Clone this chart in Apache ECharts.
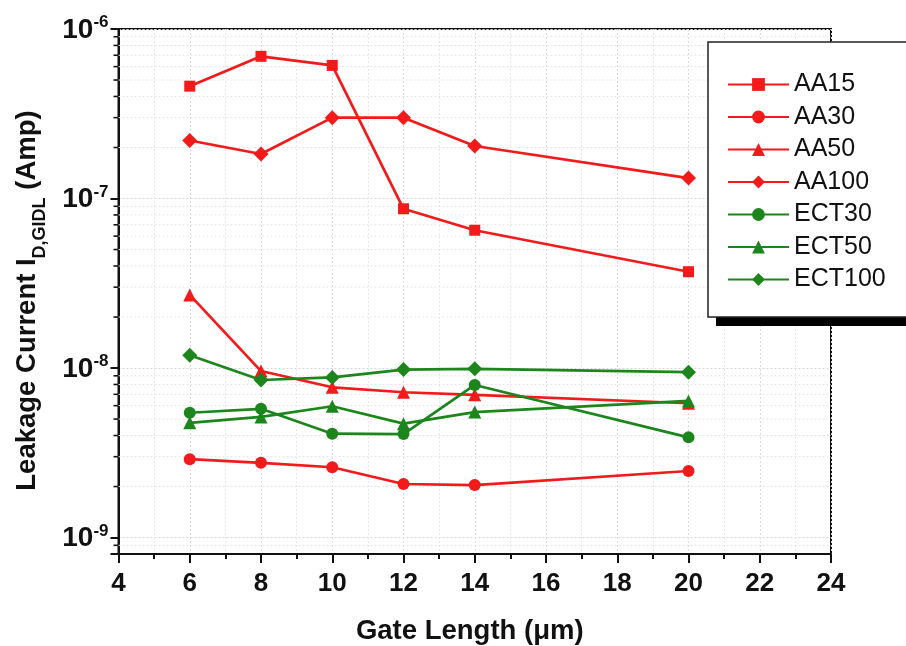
<!DOCTYPE html>
<html>
<head>
<meta charset="utf-8">
<script src="https://cdn.jsdelivr.net/npm/echarts@6/dist/echarts.min.js"></script>
<style>
html,body{margin:0;padding:0;background:#fff;}
#chart{width:906px;height:646px;}
</style>
</head>
<body>
<div id="chart"></div>
<script>
// ---- data ----
const gateLength = [6, 8, 10, 12, 14, 20];
const seriesNames = ['AA15', 'AA30', 'AA50', 'AA100', 'ECT30', 'ECT50', 'ECT100'];
const AA15 = [4.6e-7, 6.9e-7, 6.1e-7, 8.7e-8, 6.5e-8, 3.7e-8];
const AA30 = [2.9e-9, 2.76e-9, 2.6e-9, 2.07e-9, 2.04e-9, 2.47e-9];
const AA50 = [2.7e-8, 9.6e-9, 7.7e-9, 7.2e-9, 6.95e-9, 6.2e-9];
const AA100 = [2.2e-7, 1.83e-7, 3.0e-7, 3.0e-7, 2.04e-7, 1.32e-7];
const ECT30 = [5.45e-9, 5.75e-9, 4.1e-9, 4.08e-9, 7.95e-9, 3.9e-9];
const ECT50 = [4.75e-9, 5.15e-9, 5.95e-9, 4.7e-9, 5.5e-9, 6.4e-9];
const ECT100 = [1.19e-8, 8.5e-9, 8.8e-9, 9.8e-9, 9.9e-9, 9.45e-9];
const xTicks = [4, 6, 8, 10, 12, 14, 16, 18, 20, 22, 24];
const yMajorExponents = [-9, -8, -7, -6];
const yMinorTicks = [9e-10,
  2e-9, 3e-9, 4e-9, 5e-9, 6e-9, 7e-9, 8e-9, 9e-9,
  2e-8, 3e-8, 4e-8, 5e-8, 6e-8, 7e-8, 8e-8, 9e-8,
  2e-7, 3e-7, 4e-7, 5e-7, 6e-7, 7e-7, 8e-7, 9e-7];

const RED = '#f21a1a';
const GREEN = '#1c861c';
const FONT = '"Liberation Sans", Arial, sans-serif';

const styleOf = {
  AA15:   {color: RED,   symbol: 'rect',     size: 11, data: AA15},
  AA30:   {color: RED,   symbol: 'circle',   size: 12, data: AA30},
  AA50:   {color: RED,   symbol: 'triangle', size: 13, data: AA50},
  AA100:  {color: RED,   symbol: 'diamond',  size: 15, data: AA100},
  ECT30:  {color: GREEN, symbol: 'circle',   size: 12, data: ECT30},
  ECT50:  {color: GREEN, symbol: 'triangle', size: 13, data: ECT50},
  ECT100: {color: GREEN, symbol: 'diamond',  size: 15, data: ECT100}
};

const lineSeries = seriesNames.map(function (name) {
  const s = styleOf[name];
  return {
    name: name,
    type: 'line',
    data: gateLength.map(function (x, i) { return [x, s.data[i]]; }),
    symbol: s.symbol,
    symbolSize: s.size,
    showAllSymbol: true,
    itemStyle: {color: s.color},
    lineStyle: {color: s.color, width: 2.7},
    emphasis: {disabled: true},
    z: 3
  };
});

// minor log ticks + faint minor grid lines, positioned through the y scale
const minorSeries = {
  type: 'custom',
  name: '_minor',
  silent: true,
  clip: false,
  z: 1,
  data: yMinorTicks.map(function (v) { return [4, v]; }),
  renderItem: function (params, api) {
    const cs = params.coordSys;
    const y = api.coord([4, api.value(1)])[1];
    return {
      type: 'group',
      children: [
        {type: 'line', shape: {x1: cs.x - 5, y1: y, x2: cs.x, y2: y},
         style: {stroke: '#111', lineWidth: 1.6}},
        {type: 'line', shape: {x1: cs.x, y1: y, x2: cs.x + cs.width, y2: y},
         style: {stroke: '#e4e4e4', lineWidth: 1, lineDash: [2, 2]}}
      ]
    };
  }
};

const chart = echarts.init(document.getElementById('chart'));
chart.setOption({
  animation: false,
  backgroundColor: '#fff',
  grid: {left: 118.5, top: 29, right: 75, bottom: 92, show: true, containLabel: false,
         outerBoundsMode: 'none',
         borderColor: '#111', borderWidth: 2, backgroundColor: 'transparent'},
  graphic: [
    {type: 'rect', z: 20, silent: true,
     shape: {x: 716, y: 51, width: 220, height: 275}, style: {fill: '#000'}},
    {type: 'rect', z: 21, silent: true,
     shape: {x: 708, y: 42, width: 230, height: 275}, style: {fill: '#fff', stroke: '#222', lineWidth: 1.5}}
  ],
  legend: {
    data: seriesNames,
    orient: 'vertical',
    left: 708, top: 44,
    itemWidth: 61, itemHeight: 16,
    itemGap: 7.5,
    itemTextGap: 7,
    padding: [28, 20, 20, 19],
    textStyle: {fontSize: 25, color: '#111', fontFamily: FONT, lineHeight: 25},
    selectedMode: false,
    z: 30
  },
  xAxis: {
    type: 'value',
    min: 4, max: 24, interval: 2,
    name: 'Gate Length (\u03bcm)',
    nameLocation: 'middle',
    nameGap: 63,
    nameTextStyle: {fontSize: 27.5, fontWeight: 'bold', color: '#111', fontFamily: FONT, padding: [0, 10, 0, 0]},
    axisLine: {show: true, lineStyle: {color: '#111', width: 2}},
    axisTick: {show: true, length: 9, lineStyle: {color: '#111', width: 2}},
    minorTick: {show: true, splitNumber: 2, length: 5, lineStyle: {color: '#111', width: 2}},
    axisLabel: {fontSize: 26, fontWeight: 'bold', color: '#111', fontFamily: FONT, margin: 17,
      formatter: function (v) { return xTicks.indexOf(v) >= 0 ? String(v) : ''; }},
    splitLine: {show: true, lineStyle: {color: '#dcdcdc', type: [2, 2], width: 1}},
    minorSplitLine: {show: true, lineStyle: {color: '#e8e8e8', type: [2, 2], width: 1}}
  },
  yAxis: {
    type: 'log',
    logBase: 10,
    min: 8e-10, max: 1e-6,
    name: '{t|Leakage Current I}{s|D,GIDL}{t| (Amp)}',
    nameLocation: 'middle',
    nameGap: 69,
    nameRotate: 90,
    nameTextStyle: {
      padding: [0, 18, 0, 0],
      rich: {
        t: {fontSize: 27.5, fontWeight: 'bold', color: '#111', fontFamily: FONT, lineHeight: 36, verticalAlign: 'top'},
        s: {fontSize: 18, fontWeight: 'bold', color: '#111', fontFamily: FONT, lineHeight: 18, verticalAlign: 'bottom'}
      }
    },
    axisLine: {show: true, lineStyle: {color: '#111', width: 2}},
    axisTick: {show: true, length: 8, lineStyle: {color: '#111', width: 2}},
    axisLabel: {
      margin: 10,
      formatter: function (v) {
        const e = Math.log10(v);
        const r = Math.round(e);
        if (Math.abs(e - r) > 1e-6 || yMajorExponents.indexOf(r) < 0) return '';
        return '{b|10}{s|' + r + '}';
      },
      rich: {
        b: {fontSize: 28, fontWeight: 'bold', color: '#111', fontFamily: FONT, lineHeight: 30, verticalAlign: 'bottom'},
        s: {fontSize: 17, fontWeight: 'bold', color: '#111', fontFamily: FONT, lineHeight: 17, verticalAlign: 'top'}
      }
    },
    splitLine: {show: true, lineStyle: {color: '#d6d6d6', type: [2, 2], width: 1}}
  },
  series: [minorSeries].concat(lineSeries)
});
</script>
</body>
</html>
